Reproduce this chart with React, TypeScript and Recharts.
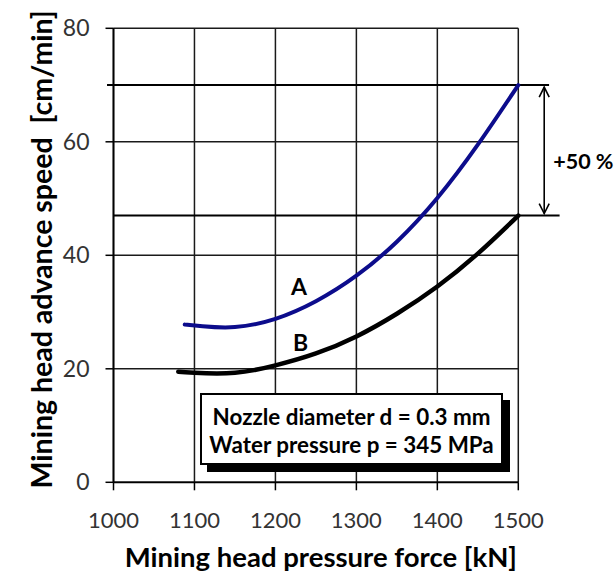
import React from 'react';
import {
  LineChart,
  Line,
  XAxis,
  YAxis,
  CartesianGrid,
  ReferenceLine,
  ReferenceDot,
  Label,
} from 'recharts';

// ---- data ----
const forceA = [1088, 1110, 1150, 1200, 1250, 1300, 1350, 1400, 1450, 1500];
const speedA = [27.8, 27.5, 27.35, 28.8, 31.9, 36.4, 42.4, 50.1, 59.5, 70.0];
const forceB = [1080, 1100, 1150, 1200, 1250, 1300, 1350, 1400, 1450, 1500];
const speedB = [19.5, 19.3, 19.3, 20.6, 22.7, 25.7, 29.7, 34.5, 40.3, 47.0];
const xTicks = [1000, 1100, 1200, 1300, 1400, 1500];
const yTicks = [0, 20, 40, 60, 80];
const levelA = 70;
const levelB = 47;
const increaseLabel = '+50 %';
const curveLabels = [
  { name: 'A', force: 1229, speed: 34.5 },
  { name: 'B', force: 1231, speed: 24.6 },
];
const legendLines = ['Nozzle diameter d = 0.3 mm', 'Water pressure p = 345 MPa'];
const xTitle = 'Mining head pressure force [kN]';
const yTitle = 'Mining head advance speed  [cm/min]';

const seriesA = forceA.map((f, i) => ({ force: f, speed: speedA[i] }));
const seriesB = forceB.map((f, i) => ({ force: f, speed: speedB[i] }));

const FONT = 'Lato, "Open Sans", sans-serif';

const ArrowShape = (props: any) => {
  const { x1, y1, y2 } = props;
  const top = Math.min(y1, y2) + 2;
  const bot = Math.max(y1, y2) - 2;
  const s = { fill: 'none', stroke: '#000', strokeWidth: 1.6 };
  return (
    <g>
      <line x1={x1} y1={top} x2={x1} y2={bot} {...s} />
      <polyline points={`${x1 - 5},${top + 10} ${x1},${top} ${x1 + 5},${top + 10}`} {...s} />
      <polyline points={`${x1 - 5},${bot - 10} ${x1},${bot} ${x1 + 5},${bot - 10}`} {...s} />
    </g>
  );
};

export default function App() {
  return (
    <div style={{ position: 'absolute', left: 0, top: 0, width: 614, height: 574, background: '#fff', fontFamily: FONT }}>
      <LineChart
        width={614}
        height={574}
        margin={{ top: 28.3, right: 95.7, left: 53.5, bottom: 0 }}
        style={{ fontFamily: FONT }}
      >
        <CartesianGrid stroke="#1a1a1a" strokeWidth={1.5} />
        <XAxis
          type="number"
          dataKey="force"
          domain={[1000, 1500]}
          ticks={xTicks}
          interval={0}
          height={91.7}
          tickSize={8}
          tickMargin={22}
          axisLine={{ stroke: '#000', strokeWidth: 1.8 }}
          tickLine={{ stroke: '#000', strokeWidth: 1.5 }}
          tick={{ fill: '#333', fontSize: 22, fontFamily: FONT }}
        >
          <Label
            content={(p: any) => {
              const vb = p.viewBox;
              return (
                <text
                  x={vb.x + vb.width / 2 + 5}
                  y={vb.y + 85}
                  textAnchor="middle"
                  fontSize={27.5}
                  fontWeight="bold"
                  fill="#000"
                  fontFamily={FONT}
                >
                  {xTitle}
                </text>
              );
            }}
          />
        </XAxis>
        <YAxis
          type="number"
          domain={[0, 80]}
          ticks={yTicks}
          interval={0}
          width={60}
          tickSize={8}
          tickMargin={16}
          axisLine={{ stroke: '#000', strokeWidth: 1.8 }}
          tickLine={{ stroke: '#000', strokeWidth: 1.5 }}
          tick={{ fill: '#333', fontSize: 23, fontFamily: FONT }}
        >
          <Label
            content={(p: any) => {
              const vb = p.viewBox;
              const cx = 52;
              const cy = vb.y + vb.height / 2 - 6;
              return (
                <text
                  x={cx}
                  y={cy}
                  transform={`rotate(-90 ${cx} ${cy})`}
                  textAnchor="middle"
                  fontSize={28.5}
                  fontWeight="bold"
                  fill="#000"
                  fontFamily={FONT}
                  style={{ whiteSpace: 'pre' }}
                >
                  {yTitle}
                </text>
              );
            }}
          />
        </YAxis>
        <ReferenceLine
          segment={[{ x: 992, y: levelA }, { x: 1538, y: levelA }]}
          stroke="#000"
          strokeWidth={2}
          ifOverflow="visible"
        />
        <ReferenceLine
          segment={[{ x: 1000, y: levelB }, { x: 1551, y: levelB }]}
          stroke="#000"
          strokeWidth={2}
          ifOverflow="visible"
        />
        <ReferenceLine
          segment={[{ x: 1532, y: levelA }, { x: 1532, y: levelB }]}
          ifOverflow="visible"
          shape={ArrowShape}
        />
        <Line
          data={seriesA}
          dataKey="speed"
          type="natural"
          stroke="#0c0c8c"
          strokeWidth={4}
          dot={false}
          activeDot={false}
          strokeLinecap="round"
          isAnimationActive={false}
        />
        <Line
          data={seriesB}
          dataKey="speed"
          type="natural"
          stroke="#000"
          strokeWidth={4.5}
          dot={false}
          activeDot={false}
          strokeLinecap="round"
          isAnimationActive={false}
        />
        {curveLabels.map((c) => (
          <ReferenceDot key={c.name} x={c.force} y={c.speed} r={0} fill="none" stroke="none" ifOverflow="visible">
            <Label value={c.name} position="center" fontSize={23} fontWeight="bold" fill="#000" fontFamily={FONT} />
          </ReferenceDot>
        ))}
        <ReferenceDot x={1532} y={56.6} r={0} fill="none" stroke="none" ifOverflow="visible">
          <Label value={increaseLabel} position="right" offset={9} fontSize={21.5} fontWeight="bold" fill="#000" fontFamily={FONT} />
        </ReferenceDot>
      </LineChart>
      <div
        style={{
          position: 'absolute',
          left: 200,
          top: 393,
          width: 303,
          height: 72,
          boxSizing: 'border-box',
          border: '2px solid #000',
          background: '#fff',
          boxShadow: '7px 7px 0 #000',
          display: 'flex',
          flexDirection: 'column',
          alignItems: 'center',
          justifyContent: 'center',
          paddingTop: 4,
          fontFamily: FONT,
          fontWeight: 'bold',
          fontSize: 22.4,
          lineHeight: '28px',
          color: '#000',
        }}
      >
        {legendLines.map((t) => (
          <div key={t} style={{ whiteSpace: 'nowrap' }}>{t}</div>
        ))}
      </div>
    </div>
  );
}
